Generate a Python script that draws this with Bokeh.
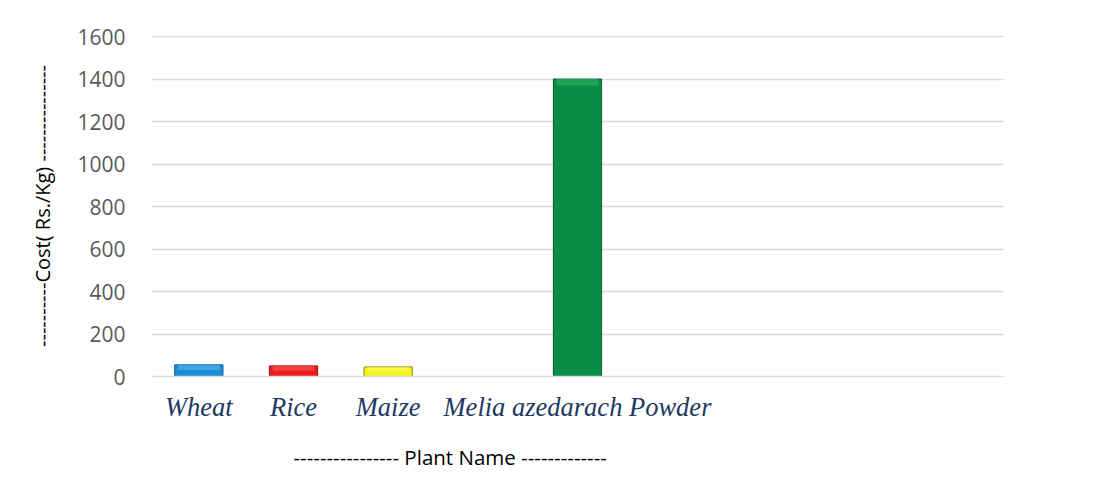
from bokeh.plotting import figure
from bokeh.models import FactorRange, Range1d, FixedTicker, ColumnDataSource, Title
from bokeh.embed import file_html
from bokeh.resources import INLINE

# Data
categories = ["Wheat", "Rice", "Maize", " ", "Melia azedarach Powder", "  ", "   ", "    ", "     "]
costs = [55, 50, 45, 0, 1400, 0, 0, 0, 0]
bar_colors = ["#1b8cd6", "#ec1c1c", "#f3f21a", "#ffffff", "#0a8d44", "#ffffff", "#ffffff", "#ffffff", "#ffffff"]
edge_colors = ["#0f5f96", "#9a1010", "#8a8a10", "#ffffff", "#05602c", "#ffffff", "#ffffff", "#ffffff", "#ffffff"]
top_colors = ["#55baf2", "#ff5a5a", "#ffff70", "#ffffff", "#35b86a", "#ffffff", "#ffffff", "#ffffff", "#ffffff"]
y_ticks = [0, 200, 400, 600, 800, 1000, 1200, 1400, 1600]
x_title = "----------------  Plant Name -------------"
y_title = "----------Cost( Rs./Kg) ---------------"

shown = [i for i, v in enumerate(costs) if v > 0]
src = ColumnDataSource(dict(
    x=[categories[i] for i in shown],
    top=[costs[i] for i in shown],
    hl_bottom=[max(costs[i] - 30, costs[i] * 0.55) for i in shown],
    color=[bar_colors[i] for i in shown],
    edge=[edge_colors[i] for i in shown],
    hl=[top_colors[i] for i in shown],
))

p = figure(
    width=1090, height=486,
    x_range=FactorRange(*categories, range_padding=0),
    y_range=Range1d(0, 1605),
    output_backend="svg", toolbar_location=None,
    min_border_left=151, min_border_right=87, min_border_top=35, min_border_bottom=109,
)
p.outline_line_color = None
p.background_fill_color = "white"
p.border_fill_color = "white"

p.vbar(x="x", top="top", bottom=0, width=0.51, source=src,
       fill_color="color", line_color="edge", line_width=1)
p.vbar(x="x", top="top", bottom="hl_bottom", width=0.44, source=src,
       fill_color="hl", fill_alpha=0.55, line_color=None)

# grid
p.xgrid.grid_line_color = None
p.ygrid.grid_line_color = "#d9d9d9"
p.ygrid.grid_line_width = 1.5
p.yaxis.ticker = FixedTicker(ticks=y_ticks)

# y axis
p.yaxis.axis_line_color = None
p.yaxis.major_tick_line_color = None
p.yaxis.minor_tick_line_color = None
p.yaxis.major_label_text_font = "Open Sans"
p.yaxis.major_label_text_font_size = "21px"
p.yaxis.major_label_text_color = "#595959"
p.yaxis.major_label_standoff = 20
p.yaxis.axis_label = y_title
p.yaxis.axis_label_text_font = "Open Sans"
p.yaxis.axis_label_text_font_size = "20px"
p.yaxis.axis_label_text_font_style = "normal"
p.yaxis.axis_label_text_color = "#000000"
p.yaxis.axis_label_standoff = 18

# x axis
p.xaxis.axis_line_color = "#d9d9d9"
p.xaxis.axis_line_width = 1.5
p.xaxis.major_tick_line_color = None
p.xaxis.minor_tick_line_color = None
p.xaxis.major_label_text_font = "Liberation Serif"
p.xaxis.major_label_text_font_style = "italic"
p.xaxis.major_label_text_font_size = "26.5px"
p.xaxis.major_label_text_color = "#1f3864"
p.xaxis.major_label_standoff = 9

t = Title(text=x_title, align="left", offset=142, standoff=32, vertical_align="bottom",
          text_font="Open Sans", text_font_size="20.5px", text_font_style="normal",
          text_color="#000000")
p.add_layout(t, "below")

open("out.html", "w").write(file_html(p, INLINE))
